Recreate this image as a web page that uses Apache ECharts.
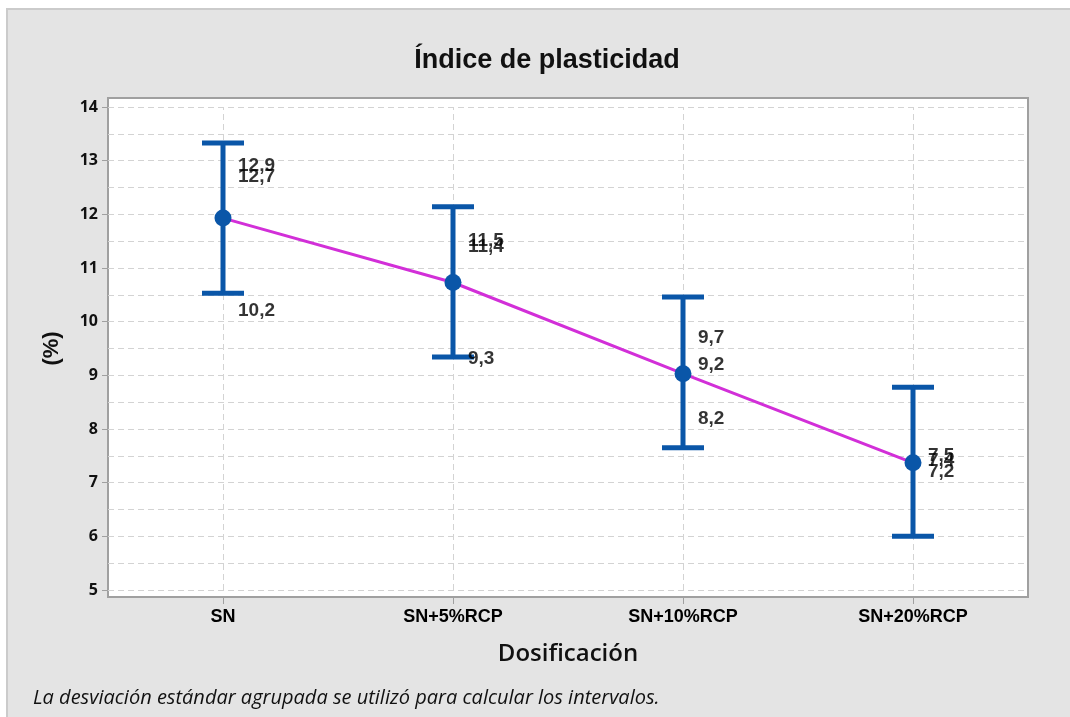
<!DOCTYPE html>
<html>
<head>
<meta charset="utf-8">
<script src="https://cdn.jsdelivr.net/npm/echarts@6/dist/echarts.min.js"></script>
<style>
  html, body { margin: 0; padding: 0; background: #fff; }
  #chart { width: 1070px; height: 717px; }
</style>
</head>
<body>
<div id="chart"></div>
<script>
// categories and values
var categories = ["SN", "SN+5%RCP", "SN+10%RCP", "SN+20%RCP"];
var meanValues = [11.93, 10.73, 9.03, 7.37];
var lowerCI = [10.53, 9.34, 7.65, 6.0];
var upperCI = [13.33, 12.14, 10.46, 8.78];
var obsSN = [12.9, 12.7, 10.2];
var obsSN5 = [11.5, 11.4, 9.3];
var obsSN10 = [9.7, 9.2, 8.2];
var obsSN20 = [7.5, 7.4, 7.2];
var yTicks = [5, 6, 7, 8, 9, 10, 11, 12, 13, 14];

var blue = "#0A56A8";
var magenta = "#D22FD8";
var gridColor = "#D3D3D3";

var obsPoints = [];
[obsSN, obsSN5, obsSN10, obsSN20].forEach(function (arr, i) {
  arr.forEach(function (v) { obsPoints.push([i, v]); });
});

var errData = categories.map(function (c, i) { return [i, lowerCI[i], upperCI[i]]; });

var chart = echarts.init(document.getElementById("chart"));
chart.setOption({
  backgroundColor: "#ffffff",
  animation: false,
  title: {
    text: "Índice de plasticidad",
    left: 542,
    top: 42,
    textAlign: "center",
    textStyle: { fontFamily: "Liberation Sans", fontWeight: "bold", fontSize: 27, color: "#111" }
  },
  graphic: [
    {
      type: "rect", z: -10, silent: true,
      shape: { x: 7, y: 9, width: 1070, height: 720 },
      style: { fill: "#E4E4E4", stroke: "#CBCBCB", lineWidth: 2 }
    },
    {
      type: "rect", z: -9, silent: true,
      shape: { x: 108, y: 98, width: 920, height: 499 },
      style: { fill: "#ffffff", stroke: "#A0A0A0", lineWidth: 2 }
    },
    {
      type: "text", left: 33, top: 688, z: 5,
      style: {
        text: "La desviación estándar agrupada se utilizó para calcular los intervalos.",
        font: "italic 20px 'Open Sans'", fill: "#111"
      }
    }
  ],
  grid: { left: 108, right: 42, top: 107, bottom: 127 },
  xAxis: {
    type: "category",
    data: categories,
    boundaryGap: true,
    offset: 8,
    name: "Dosificación",
    nameLocation: "middle",
    nameGap: 44,
    nameTextStyle: { fontFamily: "Open Sans", fontWeight: 600, fontSize: 24, color: "#111" },
    axisLine: { show: false },
    axisTick: { show: true, alignWithLabel: true, length: 6, lineStyle: { color: "#A0A0A0" } },
    axisLabel: { fontFamily: "Liberation Sans", fontWeight: "bold", fontSize: 18, color: "#000", margin: 10 },
    splitLine: { show: false }
  },
  yAxis: {
    type: "value",
    min: yTicks[0],
    max: yTicks[yTicks.length - 1],
    interval: 1,
    name: "(%)",
    nameLocation: "middle",
    nameGap: 45,
    nameRotate: 90,
    nameTextStyle: { fontFamily: "Liberation Sans", fontWeight: "bold", fontSize: 22, color: "#111" },
    axisLine: { show: false },
    axisTick: { show: true, length: 6, lineStyle: { color: "#A0A0A0" } },
    axisLabel: { fontFamily: "Open Sans", fontWeight: "bold", fontSize: 16, color: "#111", margin: 10 },
    splitLine: { show: true, lineStyle: { color: gridColor, type: [6, 4], width: 1 } },
    minorTick: { show: false, splitNumber: 2 },
    minorSplitLine: { show: true, lineStyle: { color: gridColor, type: [6, 4], width: 1 } }
  },
  series: [
    {
      type: "line",
      data: [],
      z: 1,
      silent: true,
      markLine: {
        silent: true,
        z: 1,
        symbol: "none",
        label: { show: false },
        lineStyle: { color: gridColor, type: [6, 4], width: 1 },
        data: categories.map(function (c) { return { xAxis: c }; })
      }
    },
    {
      type: "line",
      data: meanValues,
      z: 3,
      symbol: "none",
      lineStyle: { color: magenta, width: 3 }
    },
    {
      type: "custom",
      z: 4,
      data: errData,
      renderItem: function (params, api) {
        var lo = api.coord([api.value(0), api.value(1)]);
        var hi = api.coord([api.value(0), api.value(2)]);
        var hw = 21;
        var st = { stroke: blue, lineWidth: 5, fill: null };
        return {
          type: "group",
          children: [
            { type: "line", shape: { x1: lo[0], y1: lo[1], x2: hi[0], y2: hi[1] }, style: st },
            { type: "line", shape: { x1: lo[0] - hw, y1: lo[1], x2: lo[0] + hw, y2: lo[1] }, style: st },
            { type: "line", shape: { x1: hi[0] - hw, y1: hi[1], x2: hi[0] + hw, y2: hi[1] }, style: st }
          ]
        };
      }
    },
    {
      type: "scatter",
      z: 5,
      data: meanValues,
      symbol: "circle",
      symbolSize: 17,
      itemStyle: { color: blue, opacity: 1 }
    },
    {
      type: "scatter",
      z: 6,
      data: obsPoints,
      symbolSize: 0,
      label: {
        show: true,
        position: "right",
        distance: 15,
        formatter: function (p) { return String(p.value[1]).replace(".", ","); },
        fontFamily: "Liberation Sans",
        fontWeight: "bold",
        fontSize: 19,
        color: "#000"
      }
    }
  ]
});
</script>
</body>
</html>
